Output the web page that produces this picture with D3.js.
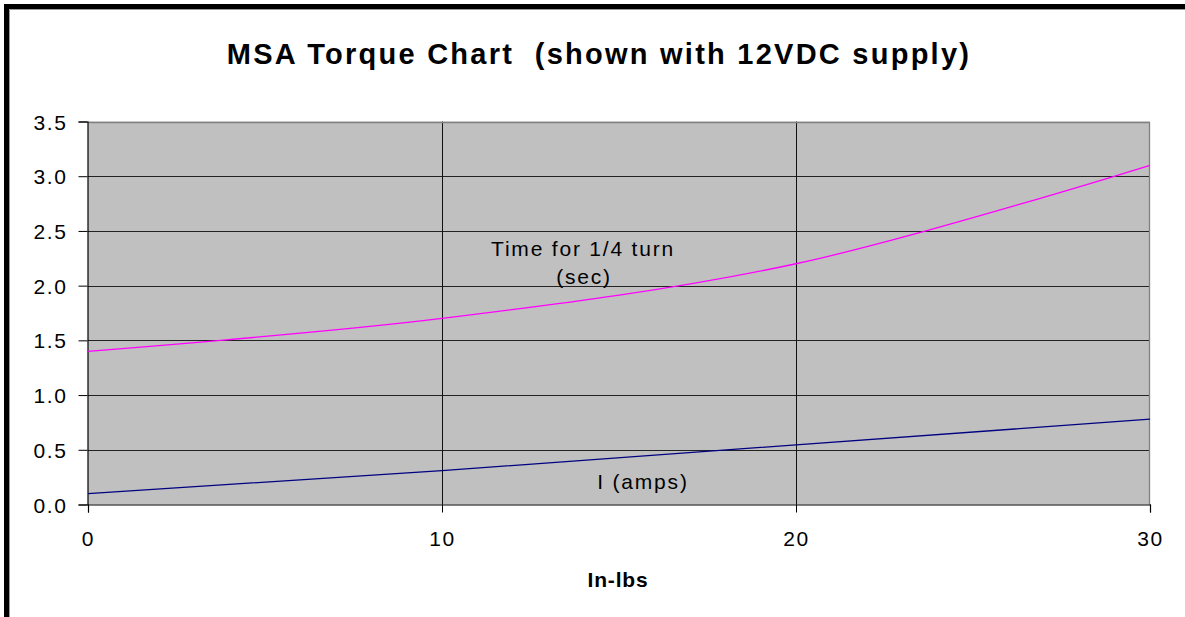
<!DOCTYPE html>
<html>
<head>
<meta charset="utf-8">
<script src="https://cdn.jsdelivr.net/npm/d3@7"></script>
<style>
  html, body { margin: 0; padding: 0; background: #fff; }
  svg { display: block; }
  text { font-family: "Liberation Sans", Arial, Helvetica, sans-serif; fill: #000; }
</style>
</head>
<body>
<svg id="chart" width="1185" height="617"></svg>
<script>
// ---- data ----
const torque = [0, 10, 20, 30];                 // In-lbs
const timeQuarterTurn = [1.4, 1.7, 2.2, 3.1];   // sec
const currentAmps = [0.1, 0.31, 0.545, 0.78];   // amps
const xTicks = [0, 10, 20, 30];
const yTicks = [0, 0.5, 1.0, 1.5, 2.0, 2.5, 3.0, 3.5];
const titleText = "MSA Torque Chart  (shown with 12VDC supply)";
const xAxisTitle = "In-lbs";
const timeLabel = ["Time for 1/4 turn", "(sec)"];
const ampsLabel = "I (amps)";

const svg = d3.select("#chart");
const W = 1185, H = 617;
const plot = { left: 88, top: 121.5, right: 1150, bottom: 504.5 };

// outer frame (cut off at right and bottom like the reference)
svg.append("rect").attr("x", 6.5).attr("y", 6.5).attr("width", W + 20).attr("height", H + 20)
  .attr("fill", "none").attr("stroke", "#000").attr("stroke-width", 5);
svg.append("path").attr("d", `M9.5,${H + 5}V9.5H${W + 5}`)
  .attr("fill", "none").attr("stroke", "#999").attr("stroke-width", 1);

const x = d3.scaleLinear().domain([0, 30]).range([plot.left, plot.right]);
const y = d3.scaleLinear().domain([0, 3.5]).range([plot.bottom, plot.top]);

// plot background
svg.append("rect").attr("x", plot.left).attr("y", plot.top)
  .attr("width", plot.right - plot.left).attr("height", plot.bottom - plot.top)
  .attr("fill", "#c0c0c0");

// horizontal gridlines
svg.append("g").selectAll("line").data(yTicks.filter(d => d > 0 && d < 3.5)).join("line")
  .attr("x1", plot.left).attr("x2", plot.right)
  .attr("y1", d => Math.round(y(d)) + 0.5).attr("y2", d => Math.round(y(d)) + 0.5)
  .attr("stroke", "#222").attr("stroke-width", 1);
// vertical gridlines
svg.append("g").selectAll("line").data(xTicks.filter(d => d > 0 && d < 30)).join("line")
  .attr("x1", d => Math.round(x(d)) + 0.5).attr("x2", d => Math.round(x(d)) + 0.5)
  .attr("y1", plot.top).attr("y2", plot.bottom)
  .attr("stroke", "#111").attr("stroke-width", 1);

// plot border top/right (gray)
svg.append("path")
  .attr("d", `M${plot.left},${Math.round(plot.top) + 0.5}H${Math.round(plot.right) - 0.5}V${plot.bottom}`)
  .attr("fill", "none").attr("stroke", "#808080").attr("stroke-width", 1.3);

// axes
const yAxis = d3.axisLeft(y).tickValues(yTicks).tickFormat(d3.format(".1f")).tickSize(9).tickPadding(11);
const gy = svg.append("g").attr("transform", `translate(${plot.left - 0.5},0)`).call(yAxis);
gy.select(".domain").attr("stroke", "#000").attr("stroke-width", 1.2);
gy.selectAll(".tick line").attr("stroke", "#000");
gy.selectAll(".tick text").attr("font-size", 21).attr("letter-spacing", "1.6px")
  .attr("font-family", "Liberation Sans, Arial, sans-serif").attr("fill", "#000").attr("dy", "0.36em");

const xAxis = d3.axisBottom(x).tickValues(xTicks).tickFormat(d3.format("d")).tickSize(8).tickPadding(19);
const gx = svg.append("g").attr("transform", `translate(0,${plot.bottom})`).call(xAxis);
gx.select(".domain").attr("stroke", "#000").attr("stroke-width", 1.2);
gx.selectAll(".tick line").attr("stroke", "#000");
gx.selectAll(".tick text").attr("font-size", 21).attr("letter-spacing", "1.6px")
  .attr("font-family", "Liberation Sans, Arial, sans-serif").attr("fill", "#000");

// series
const pts = (vals) => torque.map((t, i) => [t, vals[i]]);
const lineSmooth = d3.line().x(d => x(d[0])).y(d => y(d[1])).curve(d3.curveCatmullRom.alpha(0.5));
const lineStraight = d3.line().x(d => x(d[0])).y(d => y(d[1]));

svg.append("path").attr("d", lineSmooth(pts(timeQuarterTurn)))
  .attr("fill", "none").attr("stroke", "#ff00ff").attr("stroke-width", 1.3);
svg.append("path").attr("d", lineStraight(pts(currentAmps)))
  .attr("fill", "none").attr("stroke", "#000080").attr("stroke-width", 1.3);

// series labels
svg.append("text").attr("x", 583).attr("y", 256).attr("text-anchor", "middle")
  .attr("font-size", 21).attr("letter-spacing", "1.8px").text(timeLabel[0]);
svg.append("text").attr("x", 584).attr("y", 284).attr("text-anchor", "middle")
  .attr("font-size", 21).attr("letter-spacing", "1.8px").text(timeLabel[1]);
svg.append("text").attr("x", 643).attr("y", 489).attr("text-anchor", "middle")
  .attr("font-size", 21).attr("letter-spacing", "1.8px").text(ampsLabel);

// titles
svg.append("text").attr("x", 599).attr("y", 64).attr("text-anchor", "middle")
  .attr("font-size", 29).attr("font-weight", "bold").attr("letter-spacing", "2.25px")
  .style("white-space", "pre").attr("xml:space", "preserve").text(titleText);
svg.append("text").attr("x", 618).attr("y", 587).attr("text-anchor", "middle")
  .attr("font-size", 21).attr("font-weight", "bold").attr("letter-spacing", "0.8px").text(xAxisTitle);
</script>
</body>
</html>
